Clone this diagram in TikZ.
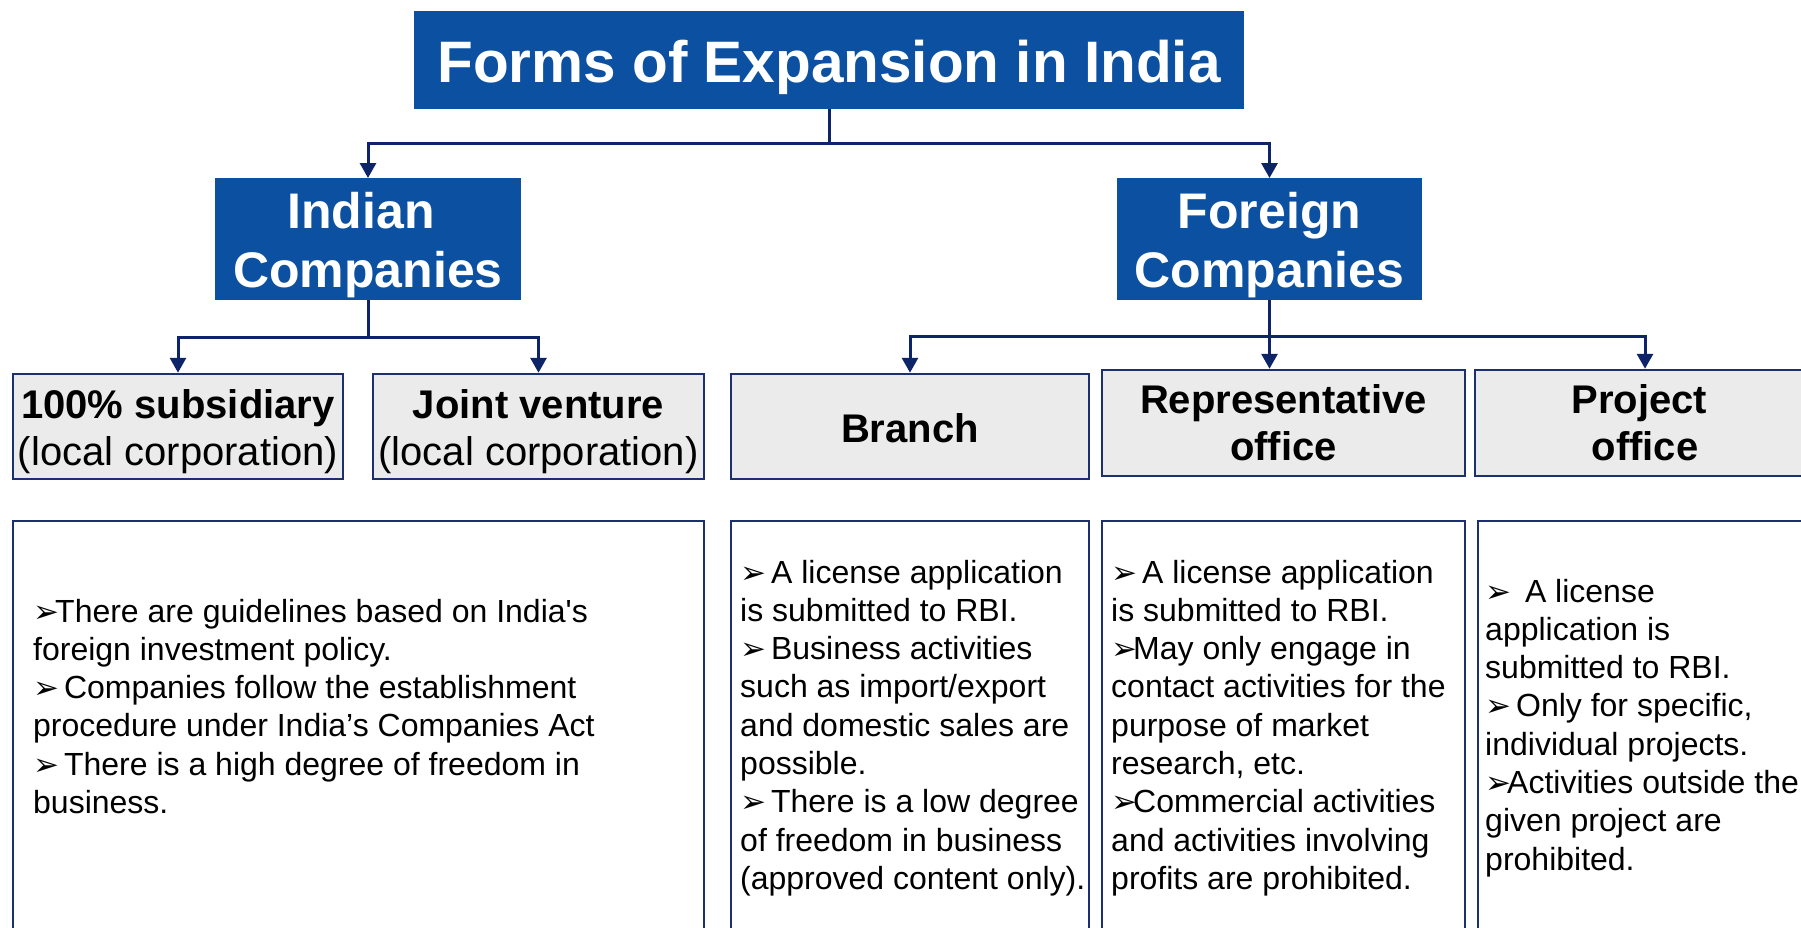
\documentclass[tikz,border=0pt]{standalone}
\usepackage{fontspec}
\setmainfont{Liberation Sans}
\newfontfamily\symfont{DejaVu Sans}
\usetikzlibrary{arrows.meta}

\definecolor{titleblue}{RGB}{12,81,161}
\definecolor{connnavy}{RGB}{14,36,104}
\definecolor{boxline}{RGB}{28,48,112}
\definecolor{boxgray}{RGB}{235,235,235}

% arrowhead bullet used in the description lists
\newcommand{\arrbul}{\makebox[22pt][l]{\smash{\symfont\fontsize{31}{31}\selectfont ➢}}}

\tikzset{
  headbox/.style={rectangle, fill=titleblue, inner sep=0pt, outer sep=0pt},
  formbox/.style={rectangle, draw=boxline, line width=2.5pt, fill=boxgray, inner sep=0pt},
  descbox/.style={rectangle, draw=boxline, line width=2.5pt, fill=white, inner sep=0pt},
  conn/.style={draw=connnavy, line width=3pt, -{Triangle[width=16pt,length=15pt]}},
  headtext/.style={anchor=base, inner sep=0pt, text=white, align=center},
  formtext/.style={anchor=base, inner sep=0pt, font=\fontsize{40}{47}\selectfont},
  desctext/.style={anchor=base west, inner sep=0pt, font=\fontsize{32}{38.3}\selectfont},
}

\begin{document}
\begin{tikzpicture}[x=1pt,y=-1pt]
\useasboundingbox (0,0) rectangle (1801,927);
\clip (0,0) rectangle (1801,927);
\fill[white] (0,0) rectangle (1801,927);

% heading boxes
\node[headbox, minimum width=830pt, minimum height=98pt] (title) at (829,60) {};
\node[headtext, font=\bfseries\fontsize{58.5}{60}\selectfont] (titleT) at (829,82) {Forms of Expansion in India};

\node[headbox, minimum width=306pt, minimum height=122pt] (ind) at (368,239) {};
\node[headtext, font=\bfseries\fontsize{50}{59}\selectfont] (indT) at (368,228.3)
  {\begin{tabular}[t]{@{}c@{}}Indian\kern14pt\\Companies\end{tabular}};

\node[headbox, minimum width=305pt, minimum height=122pt] (for) at (1269.5,239) {};
\node[headtext, font=\bfseries\fontsize{50}{59}\selectfont] (forT) at (1269.5,228.3)
  {\begin{tabular}[t]{@{}c@{}}Foreign\\Companies\end{tabular}};

% forms of establishment
\node[formbox, minimum width=330pt, minimum height=105pt] (sub) at (178,426.5) {};
\node[formbox, minimum width=331pt, minimum height=105pt] (jv) at (538.5,426.5) {};
\node[formbox, minimum width=358pt, minimum height=105pt] (br) at (910,426.5) {};
\node[formbox, minimum width=363pt, minimum height=106pt] (rep) at (1283.5,423) {};
\node[formbox, minimum width=340pt, minimum height=106pt] (proj) at (1645,423) {};

\node[formtext] (subT) at (178,418)
  {\begin{tabular}[t]{@{}c@{}}\bfseries 100\% subsidiary\\(local corporation)\end{tabular}};
\node[formtext] (jvT) at (538.5,418)
  {\begin{tabular}[t]{@{}c@{}}\bfseries Joint venture\\(local corporation)\end{tabular}};
\node[formtext, font=\bfseries\fontsize{40}{47}\selectfont] (brT) at (910,442) {Branch};
\node[formtext, font=\bfseries\fontsize{40}{47}\selectfont] (repT) at (1283.5,413)
  {\begin{tabular}[t]{@{}c@{}}Representative\\office\end{tabular}};
\node[formtext, font=\bfseries\fontsize{40}{47}\selectfont] (projT) at (1645,413)
  {\begin{tabular}[t]{@{}c@{}}Project\kern11pt\\office\end{tabular}};

% description boxes
\node[descbox, minimum width=691pt, minimum height=440pt] (indD) at (358.3,741) {};
\node[descbox, minimum width=358pt, minimum height=440pt] (brD) at (910,741) {};
\node[descbox, minimum width=363pt, minimum height=440pt] (repD) at (1283.5,741) {};
\node[descbox, minimum width=337pt, minimum height=440pt] (projD) at (1646.5,741) {};

\node[desctext] (indDT) at (33,622) {\begin{tabular}[t]{@{}l@{}}
\arrbul There are guidelines based on India\textquotesingle s\\
foreign investment policy.\\
\arrbul\ Companies follow the establishment\\
procedure under India’s Companies Act\\
\arrbul\ There is a high degree of freedom in\\
business.
\end{tabular}};

\node[desctext] (brDT) at (740,583) {\begin{tabular}[t]{@{}l@{}}
\arrbul\ A license application\\
is submitted to RBI.\\
\arrbul\ Business activities\\
such as import/export\\
and domestic sales are\\
possible.\\
\arrbul\ There is a low degree\\
of freedom in business\\
(approved content only).
\end{tabular}};

\node[desctext] (repDT) at (1111,583) {\begin{tabular}[t]{@{}l@{}}
\arrbul\ A license application\\
is submitted to RBI.\\
\arrbul May only engage in\\
contact activities for the\\
purpose of market\\
research, etc.\\
\arrbul Commercial activities\\
and activities involving\\
profits are prohibited.
\end{tabular}};

\node[desctext] (projDT) at (1485,602) {\begin{tabular}[t]{@{}l@{}}
\arrbul\ \ A license\\
application is\\
submitted to RBI.\\
\arrbul\ Only for specific,\\
individual projects.\\
\arrbul Activities outside the\\
given project are\\
prohibited.
\end{tabular}};

% connectors
\path (title.south) ++(0,34) coordinate (tj);
\draw[conn] (title.south) -- (tj) -| (ind.north);
\draw[conn] (title.south) -- (tj) -| (for.north);

\path (ind.south) ++(0,37) coordinate (ij);
\draw[conn] (ind.south) -- (ij) -| (sub.north);
\draw[conn] (ind.south) -- (ij) -| (jv.north);

\path (for.south) ++(0,36) coordinate (fj);
\draw[conn] (for.south) -- (fj) -| (br.north);
\draw[conn] (for.south) -- (for.south |- rep.north);
\draw[conn] (for.south) -- (fj) -| (proj.north);
\end{tikzpicture}
\end{document}
